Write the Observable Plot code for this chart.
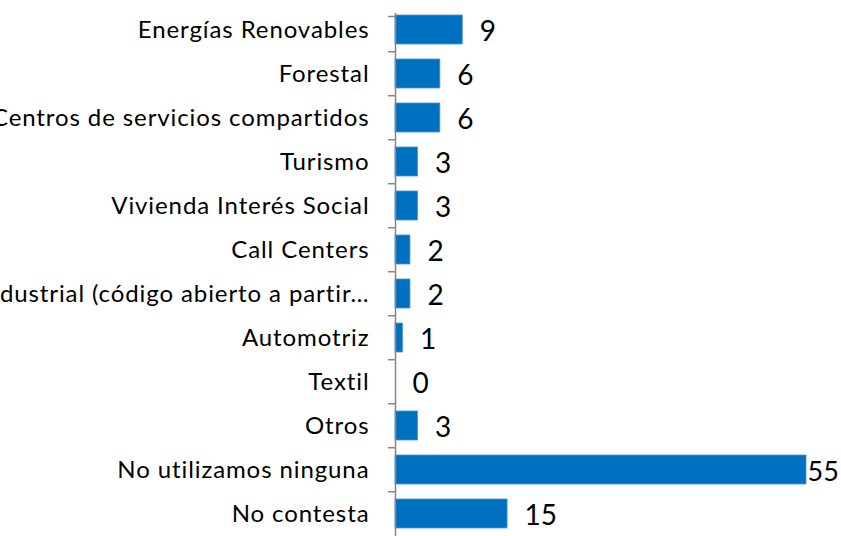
<!DOCTYPE html>
<html>
<head>
<meta charset="utf-8">
<script src="https://cdn.jsdelivr.net/npm/d3@7"></script>
<script src="https://cdn.jsdelivr.net/npm/@observablehq/plot@0.6"></script>
<style>
  html, body { margin: 0; padding: 0; background: #fff; }
  #chart svg { display: block; overflow: hidden; font-variant-ligatures: none; }
  #chart svg g[aria-label="text"] text { letter-spacing: 0; }
</style>
</head>
<body>
<div id="chart"></div>
<script>
const categories = [
  "Energías Renovables",
  "Forestal",
  "Centros de servicios compartidos",
  "Turismo",
  "Vivienda Interés Social",
  "Call Centers",
  "Industrial (código abierto a partir…",
  "Automotriz",
  "Textil",
  "Otros",
  "No utilizamos ninguna",
  "No contesta"
];
const values = [9, 6, 6, 3, 3, 2, 2, 1, 0, 3, 55, 15];

const data = categories.map((c, i) => ({category: c, value: values[i]}));
const maxValue = d3.max(values);

const W = 841, H = 536;
const yTop = 4.2, yBottom = 539;
const step = (yBottom - yTop) / categories.length;
const pxPerUnit = (806 - 395) / 55;

const chart = Plot.plot({
  width: W,
  height: H,
  marginLeft: 395,
  marginRight: 35,
  marginTop: 13,
  marginBottom: 0,
  style: {fontFamily: "Lato, sans-serif", fontSize: "24px", letterSpacing: "0.9px", color: "#000", background: "#fff"},
  x: {domain: [0, maxValue], axis: null},
  y: {domain: categories, range: [yTop, yBottom], paddingInner: 0.33, paddingOuter: 0.165, tickSize: 0, tickPadding: 26, label: null},
  marks: [
    Plot.barX(data, {x: "value", y: "category", fill: "#0070C0", stroke: "#4a95d6", strokeWidth: 0.8}),
    Plot.ruleX([0], {stroke: "#868686", strokeWidth: 1.5}),
    Plot.ruleY(categories.slice(1), {y: d => d, x1: -7 / pxPerUnit, x2: 0, dy: -step / 2, stroke: "#868686", strokeWidth: 1.5}),
    Plot.ruleY(categories.slice(0, 1), {y: d => d, x1: -7 / pxPerUnit, x2: 0, dy: -13.5, stroke: "#868686", strokeWidth: 1.5}),
    Plot.text(data.filter(d => d.value !== maxValue), {x: "value", y: "category", text: d => String(d.value), textAnchor: "start", dx: 17, dy: 2, fontSize: 28, fill: "#000"}),
    Plot.text(data.filter(d => d.value === maxValue), {x: "value", y: "category", text: d => String(d.value), textAnchor: "start", dx: 1, dy: 2, fontSize: 27, fill: "#000"})
  ]
});
document.getElementById("chart").appendChild(chart);
</script>
</body>
</html>
